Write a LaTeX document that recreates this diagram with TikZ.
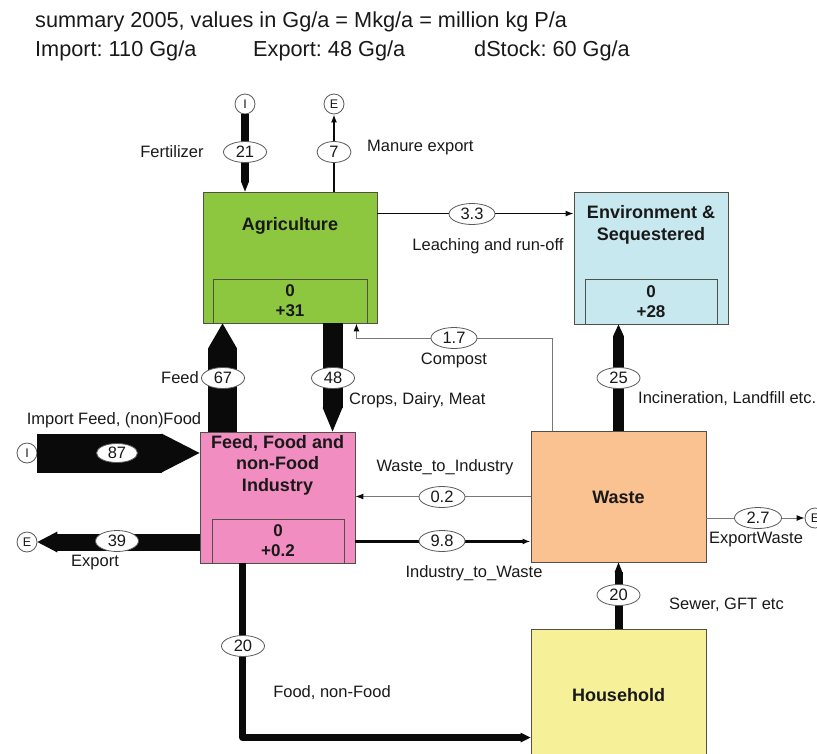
\documentclass[tikz,border=0pt]{standalone}
\usepackage{fontspec}
\setmainfont{Liberation Sans}
\usetikzlibrary{arrows.meta,shapes.geometric,calc}
\definecolor{agcol}{RGB}{141,198,63}
\definecolor{envcol}{RGB}{200,232,240}
\definecolor{indcol}{RGB}{241,141,192}
\definecolor{wastecol}{RGB}{250,193,145}
\definecolor{housecol}{RGB}{246,240,152}
\definecolor{bline}{RGB}{80,80,70}
\definecolor{eline}{RGB}{90,90,90}
\definecolor{gline}{RGB}{120,120,120}
\definecolor{txt}{RGB}{25,25,25}
\definecolor{flowcol}{RGB}{10,10,10}
\frenchspacing
\tikzset{
 hdr/.style={font=\fontsize{21.7}{24}\selectfont, text=txt, inner sep=0},
 lab/.style={font=\fontsize{16.5}{19}\selectfont, text=txt, inner sep=0},
 ttl/.style={font=\fontsize{18}{21.5}\selectfont\bfseries, text=txt, align=center, inner sep=0},
 box/.style={draw=bline, line width=0.9pt, inner sep=0, rectangle},
 stock/.style={draw=bline, line width=0.9pt, inner sep=0, rectangle, align=center, font=\fontsize{17}{20}\selectfont\bfseries, text=txt},
 val/.style={ellipse, draw=eline, line width=0.8pt, fill=white, inner sep=0, minimum height=21pt, minimum width=43pt, font=\fontsize{16.5}{18}\selectfont, text=txt},
 port/.style={circle, draw=eline, line width=0.8pt, fill=white, inner sep=0, minimum size=20pt, font=\fontsize{12.5}{14}\selectfont, text=txt},
 fine/.style={draw=flowcol, line width=1.2pt, -{Latex[length=8pt,width=6pt]}},
 faint/.style={draw=gline, line width=1pt, -{Latex[length=8pt,width=6pt,color=flowcol]}},
 flow/.style n args={3}{draw=flowcol, line width=#1, -{Triangle[width=#2, length=#3, line width=0pt]}},
}
\begin{document}
\begin{tikzpicture}[x=1pt,y=-1pt]
\useasboundingbox (0,0) rectangle (817,753);
\clip (0,0) rectangle (817,753);
% header
\node[hdr, anchor=base west] (h1) at (35,27) {summary 2005, values in Gg/a = Mkg/a = million kg P/a};
\node[hdr, anchor=base west] (h2) at (35,56) {Import: 110 Gg/a};
\node[hdr, anchor=base west] (h3) at (253,56) {Export: 48 Gg/a};
\node[hdr, anchor=base west] (h4) at (474,56) {dStock: 60 Gg/a};
% boxes
\node[box, fill=agcol, minimum width=174pt, minimum height=131pt] (agri) at (290,257.5) {};
\node[stock, fill=agcol, minimum width=154pt, minimum height=44pt] (agriS) at (290,301) {0\\+31};
\node[ttl] (agriT) at (290,226) {Agriculture};
\node[box, fill=envcol, minimum width=154pt, minimum height=132pt] (env) at (651,258) {};
\node[stock, fill=envcol, minimum width=132pt, minimum height=45pt] (envS) at (651,301.5) {0\\+28};
\node[ttl] (envT) at (651,225) {Environment \&\\Sequestered};
\node[box, fill=indcol, minimum width=155pt, minimum height=131pt] (ind) at (277.5,497.5) {};
\node[stock, fill=indcol, minimum width=132pt, minimum height=44pt] (indS) at (278,541) {0\\+0.2};
\node[ttl] (indT) at (277.5,465) {Feed, Food and\\non-Food\\Industry};
\node[box, fill=wastecol, minimum width=175pt, minimum height=131pt] (waste) at (618.5,496.5) {};
\node[ttl] (wasteT) at (618.5,497) {Waste};
\node[box, fill=housecol, minimum width=175pt, minimum height=131pt] (house) at (618.5,694.5) {};
\node[ttl] (houseT) at (618.5,695) {Household};
% ports
\node[port] (iF) at (245,104) {I};
\node[port] (eM) at (334,104) {E};
\node[port] (iI) at (27,453) {I};
\node[port] (eE) at (27,542) {E};
\node[port] (eW) at (815,518) {E};
% flows
\draw[flow={8pt}{8pt}{10pt}] (iF.south) -- (iF.south |- agri.north);
\draw[fine, line width=1.5pt] (eM |- agri.north) -- (eM.south);
\draw[fine] ([yshift=-22pt]agri.north east) -- ([yshift=-22pt]agri.north east -| env.west);
\draw[flow={29pt}{29pt}{25pt}] ([xshift=23pt]ind.north west) -- ([xshift=23pt]ind.north west |- agri.south);
\draw[flow={20pt}{20pt}{24pt}] ([xshift=130pt]agri.south west) -- ([xshift=130pt]agri.south west |- ind.north);
\draw[faint] ([xshift=22pt]waste.north west) |- ([xshift=-21pt,yshift=-15pt]agri.south east) -- ([xshift=-21pt]agri.south east);
\draw[flow={11pt}{11pt}{12pt}] (waste.north) -- (waste.north |- env.south);
\draw[faint] (waste.west) -- (waste.west -| ind.east);
\draw[fine, line width=2.5pt] ([yshift=22pt]ind.south east) -- ([yshift=22pt]ind.south east -| waste.west);
\draw[faint] (eW -| waste.east) -- (eW.west);
\draw[flow={8pt}{8pt}{10pt}] (house.north) -- (house.north |- waste.south);
\draw[flow={7pt}{10pt}{10pt}, line join=round] ([xshift=43pt]ind.south west) |- ([yshift=-109pt]house.north west);
\draw[flow={39pt}{39pt}{38pt}] (iI.east) -- (iI.east -| ind.west);
\draw[flow={17pt}{21pt}{20pt}] (eE.east -| ind.west) -- (eE.east);
% values
\node[val] (v21) at (245,152) {21};
\node[val, minimum width=34pt] (v7) at (334,152) {7};
\node[val, minimum width=46pt] (v33) at (472,214) {3.3};
\node[val] (v67) at (223,378) {67};
\node[val] (v48) at (333,378) {48};
\node[val, minimum width=46pt] (v17) at (454,338) {1.7};
\node[val] (v25) at (618.5,378) {25};
\node[val, minimum width=46pt] (v02) at (442,497) {0.2};
\node[val, minimum width=46pt] (v98) at (442,541) {9.8};
\node[val, minimum width=47pt] (v27) at (758,518) {2.7};
\node[val] (v20a) at (618.5,595) {20};
\node[val] (v20b) at (243,646) {20};
\node[val, minimum width=41pt, minimum height=19pt] (v87) at (117,453) {87};
\node[val] (v39) at (117,541) {39};
% labels
\node[lab] (lFert) at (172,152) {Fertilizer};
\node[lab, anchor=west] (lMan) at (367,148) {Manure export};
\node[lab] (lLeach) at (488,246) {Leaching and run-off};
\node[lab, anchor=east] (lFeed) at (199,378) {Feed};
\node[lab, anchor=west] (lCrops) at (349,400) {Crops, Dairy, Meat};
\node[lab] (lImp) at (114,420) {Import Feed, (non)Food};
\node[lab] (lExp) at (95,563) {Export};
\node[lab] (lComp) at (454,360) {Compost};
\node[lab, anchor=west] (lInc) at (638,399) {Incineration, Landfill etc.};
\node[lab] (lW2I) at (445,467) {Waste\_to\_Industry};
\node[lab] (lI2W) at (474,573) {Industry\_to\_Waste};
\node[lab] (lEW) at (756,540) {ExportWaste};
\node[lab, anchor=west] (lSew) at (669,605) {Sewer, GFT etc};
\node[lab] (lFood) at (332,693) {Food, non-Food};
\end{tikzpicture}
\end{document}
